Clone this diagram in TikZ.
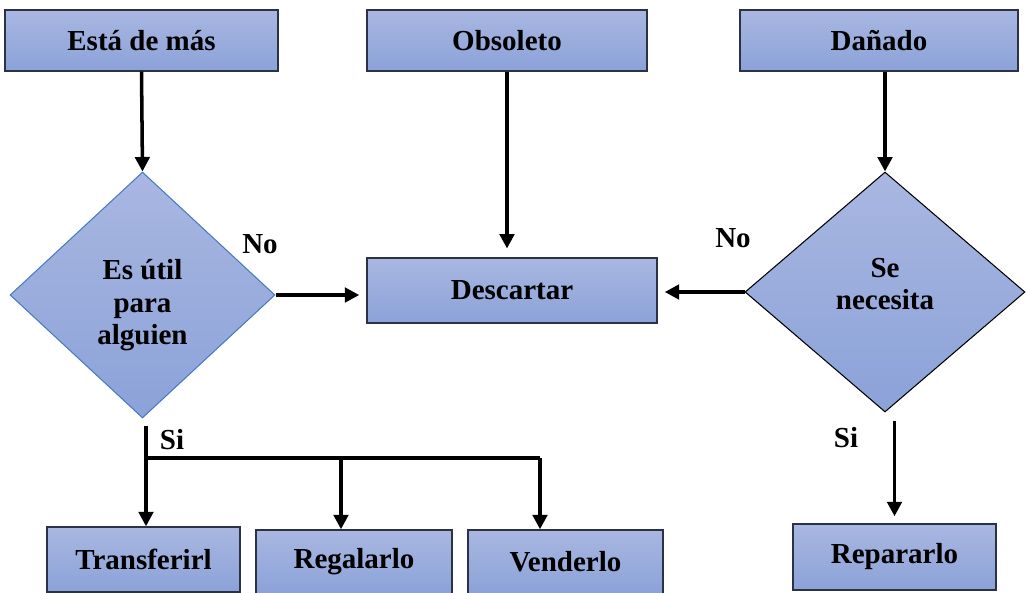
\documentclass[tikz,border=0pt]{standalone}
\usepackage{fontspec}
\setmainfont{Liberation Serif}
\usetikzlibrary{arrows.meta}
\usetikzlibrary{shapes.geometric}
\definecolor{boxtop}{HTML}{A9B7E1}
\definecolor{boxbot}{HTML}{8BA2D8}
\definecolor{boxline}{HTML}{2B3245}
\definecolor{dmdline}{HTML}{4A78C8}

\begin{document}
\begin{tikzpicture}[x=0.02cm, y=-0.02cm,
    font=\fontsize{16.5}{18.5}\selectfont\bfseries,
    box/.style={rectangle, draw=boxline, line width=0.8pt, top color=boxtop, bottom color=boxbot, minimum height=1.22cm},
    dmd/.style={diamond, draw=#1, line width=0.6pt, top color=boxtop, bottom color=boxbot, inner sep=0pt, align=center},
    arr/.style={line width=2pt, -{Triangle[length=2.9mm, width=2.9mm]}},
    lbl/.style={inner sep=1pt}]

    \useasboundingbox (0,0) rectangle (1027,592);

    \node[box, minimum width=5.46cm] (mas) at (141.5,40.5) {Está de más};
    \node[box, minimum width=5.6cm] (obs) at (507,40.5) {Obsoleto};
    \node[box, minimum width=5.56cm] (dan) at (879,40.5) {Dañado};
    \node[box, minimum width=5.8cm, minimum height=1.3cm] (des) at (512,290.5) {Descartar};

    \node[dmd=dmdline, minimum width=5.3cm, minimum height=4.92cm] (util) at (142.5,295) {\mbox{}\\[5pt]Es útil\\para\\alguien};
    \node[dmd=black, minimum width=5.6cm, minimum height=4.8cm] (nec) at (885,292) {Se\\necesita\\[-9.5pt]\mbox{}};

    \node[box, minimum width=3.86cm, minimum height=1.3cm] (tra) at (143.5,559.5) {Transferirl};
    \node[box, minimum width=3.92cm, minimum height=1.28cm] (reg) at (354,562) {Regalarlo};
    \node[box, minimum width=3.9cm, minimum height=1.28cm] (ven) at (565.5,562) {Venderlo};
    \node[box, minimum width=4.06cm, minimum height=1.32cm] (rep) at (894.5,557) {Repararlo};

    \node[lbl] (no1) at (260,244) {No};
    \node[lbl] (no2) at (733,238) {No};
    \node[lbl] (si1) at (172,440) {Si};
    \node[lbl] (si2) at (846,438) {Si};

    \coordinate (b1) at (146,458);
    \coordinate (b2) at (341,458);
    \coordinate (b3) at (540,458);

    \draw[arr] (mas.south) -- (util.north);
    \draw[arr, shorten >=5pt] (obs.south) -- (obs.south |- des.north);
    \draw[arr] (nec.north |- dan.south) -- (nec.north);
    \draw[arr, shorten >=4pt] (util.east) -- (util.east -| des.west);
    \draw[arr, shorten >=4pt] (nec.west) -- (nec.west -| des.east);
    \draw[arr, shorten <=4pt] (util.south -| b1) -- (b1 |- tra.north);
    \draw[line width=2pt] (b1) -- (b3);
    \draw[arr] (b2) -- (b2 |- reg.north);
    \draw[arr] (b3) -- (b3 |- ven.north);
    \draw[arr, shorten <=5pt, shorten >=4pt] (nec.south -| rep.north) -- (rep.north);
\end{tikzpicture}
\end{document}
